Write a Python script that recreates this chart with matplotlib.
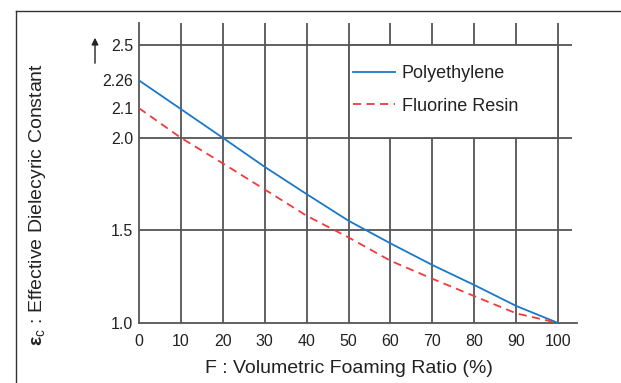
import matplotlib
matplotlib.use("Agg")
import matplotlib.pyplot as plt
from matplotlib.lines import Line2D
from matplotlib.patches import Rectangle, FancyArrowPatch

plt.rcParams['font.family'] = ['Liberation Sans', 'DejaVu Sans']
plt.rcParams['mathtext.fontset'] = 'custom'
plt.rcParams['mathtext.rm'] = 'Liberation Sans'
plt.rcParams['mathtext.bf'] = 'Liberation Sans:bold'
plt.rcParams['mathtext.it'] = 'Liberation Sans:italic'

foaming = [0, 10, 20, 30, 40, 50, 60, 70, 80, 90, 100]
polyethylene = [2.31, 2.155, 2.0, 1.843, 1.696, 1.552, 1.43, 1.313, 1.205, 1.092, 1.0]
fluorine = [2.16, 2.0, 1.862, 1.721, 1.579, 1.462, 1.336, 1.239, 1.145, 1.052, 1.0]
# label positions as drawn in the reference (start points of the two curves)
ytick_pos = [1.0, 1.5, 2.0, 2.16, 2.31, 2.5]
ytick_labels = ['1.0', '1.5', '2.0', '2.1', '2.26', '2.5']
hgrid = [1.5, 2.0, 2.5]

W, H = 621, 383
fig = plt.figure(figsize=(W / 100, H / 100), dpi=100)
ax = fig.add_axes([139 / W, 1 - 323 / H, (577 - 139) / W, (323 - 23) / H])
ax.set_xlim(0, 104.5)
ax.set_ylim(1.0, 2.62)

gridc = '#555555'
txtc = '#222222'
ax.vlines(foaming[1:], 1.0, 2.62, color=gridc, lw=1.3, zorder=1)
ax.hlines(hgrid, 0, 103.3, color=gridc, lw=1.3, zorder=1)

# blank cell behind the legend
ax.add_patch(Rectangle((50, 2.0), 50, 0.5, facecolor='white', edgecolor=gridc,
                       lw=1.3, zorder=2))

ax.plot(foaming, polyethylene, color='#1a78c8', lw=1.3, label='Polyethylene', zorder=3)
ax.plot(foaming, fluorine, color='#f03a3a', lw=1.3, dashes=(4.5, 3),
        label='Fluorine Resin', zorder=3)

leg = ax.legend(loc='center left', bbox_to_anchor=(353 / W, 1 - 90 / H),
                bbox_transform=fig.transFigure, frameon=False,
                fontsize=13, handlelength=2.3, handletextpad=0.4,
                labelspacing=0.85, borderpad=0, borderaxespad=0)
for t in leg.get_texts():
    t.set_color(txtc)

for s in ['top', 'right']:
    ax.spines[s].set_visible(False)
for s in ['left', 'bottom']:
    ax.spines[s].set_color(gridc)
    ax.spines[s].set_linewidth(1.3)

ax.set_xticks(foaming)
ax.set_xticklabels([str(v) for v in foaming])
ax.set_yticks(ytick_pos)
ax.set_yticklabels(ytick_labels)
ax.tick_params(axis='both', length=0, labelsize=11.5, colors=txtc)
ax.tick_params(axis='x', pad=8)
ax.tick_params(axis='y', pad=4)

ax.text(50, -0.153, 'F : Volumetric Foaming Ratio (%)', transform=ax.get_xaxis_transform(),
        ha='center', va='center', fontsize=14, color=txtc)
fig.text(38 / W, 1 - 205 / H, r'$\mathbf{\varepsilon}_{\mathrm{c}}$ : Effective Dielecyric Constant',
         rotation=90, ha='center', va='center', fontsize=14, color=txtc)

# arrow above y labels
fig.add_artist(FancyArrowPatch(
    (95 / W, 1 - 66 / H), (95 / W, 1 - 35 / H), transform=fig.transFigure,
    arrowstyle='-|>,head_length=4,head_width=2', color=txtc, lw=1))

# outer frame
fig.add_artist(Line2D([16 / W, 16 / W], [0, 1 - 11 / H], transform=fig.transFigure,
                      color='#333333', lw=1))
fig.add_artist(Line2D([16 / W, 1], [1 - 11 / H, 1 - 11 / H], transform=fig.transFigure,
                      color='#333333', lw=1))

fig.savefig('out.png', dpi=100)
